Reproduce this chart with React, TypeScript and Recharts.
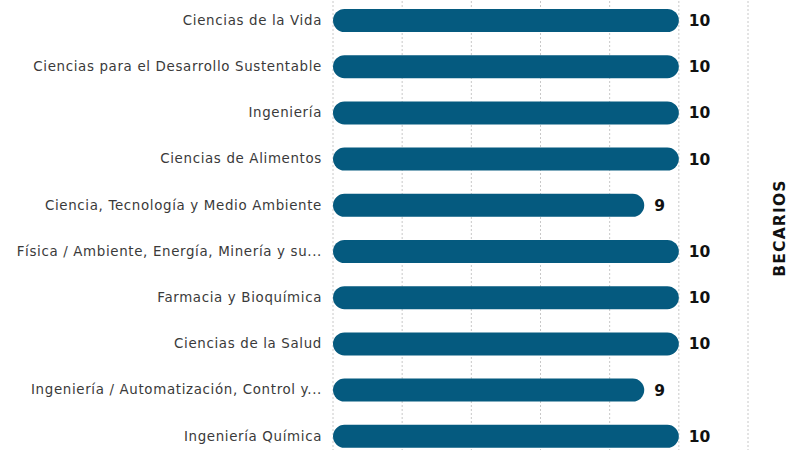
import { BarChart, Bar, XAxis, YAxis, CartesianGrid, LabelList } from 'recharts';

const carreras = [
  'Ciencias de la Vida',
  'Ciencias para el Desarrollo Sustentable',
  'Ingeniería',
  'Ciencias de Alimentos',
  'Ciencia, Tecnología y Medio Ambiente',
  'Física / Ambiente, Energía, Minería y su...',
  'Farmacia y Bioquímica',
  'Ciencias de la Salud',
  'Ingeniería / Automatización, Control y...',
  'Ingeniería Química',
];
const becarios = [10, 10, 10, 10, 9, 10, 10, 10, 9, 10];
const ticksX = [0, 2, 4, 6, 8, 10, 12];

const dados = carreras.map((nombre, i) => ({ nombre, total: becarios[i] }));

const fonte = "'DejaVu Sans', sans-serif";

export default function App() {
  return (
    <div style={{ position: 'absolute', left: 0, top: -3 }}>
      <BarChart
        width={801}
        height={462}
        data={dados}
        layout="vertical"
        margin={{ top: 0, right: 0, bottom: 0, left: 0 }}
      >
        <CartesianGrid horizontal={false} strokeDasharray="2 2" stroke="#c8c8c8" />
        <XAxis type="number" domain={[0, 12]} ticks={ticksX} hide />
        <YAxis
          yAxisId="izq"
          type="category"
          dataKey="nombre"
          width={333}
          axisLine={false}
          tickLine={false}
          tickMargin={5}
          tick={{ fontSize: 13.4, fill: '#3a3a3a', fontFamily: fonte, letterSpacing: 0.65 }}
        />
        <YAxis
          yAxisId="der"
          orientation="right"
          type="category"
          dataKey="nombre"
          width={53}
          axisLine={false}
          tickLine={false}
          tick={false}
          label={{
            value: 'BECARIOS',
            angle: -90,
            position: 'center',
            dx: 5,
            style: { fontSize: 15.5, fontWeight: 700, fill: '#111', fontFamily: fonte, letterSpacing: 1.2 },
          }}
        />
        <Bar
          yAxisId="izq"
          dataKey="total"
          fill="#055a7f"
          barSize={23}
          radius={11.5}
          isAnimationActive={false}
        >
          <LabelList
            dataKey="total"
            position="right"
            offset={10}
            style={{ fontSize: 15.5, fontWeight: 700, fill: '#111', fontFamily: fonte }}
          />
        </Bar>
      </BarChart>
    </div>
  );
}
